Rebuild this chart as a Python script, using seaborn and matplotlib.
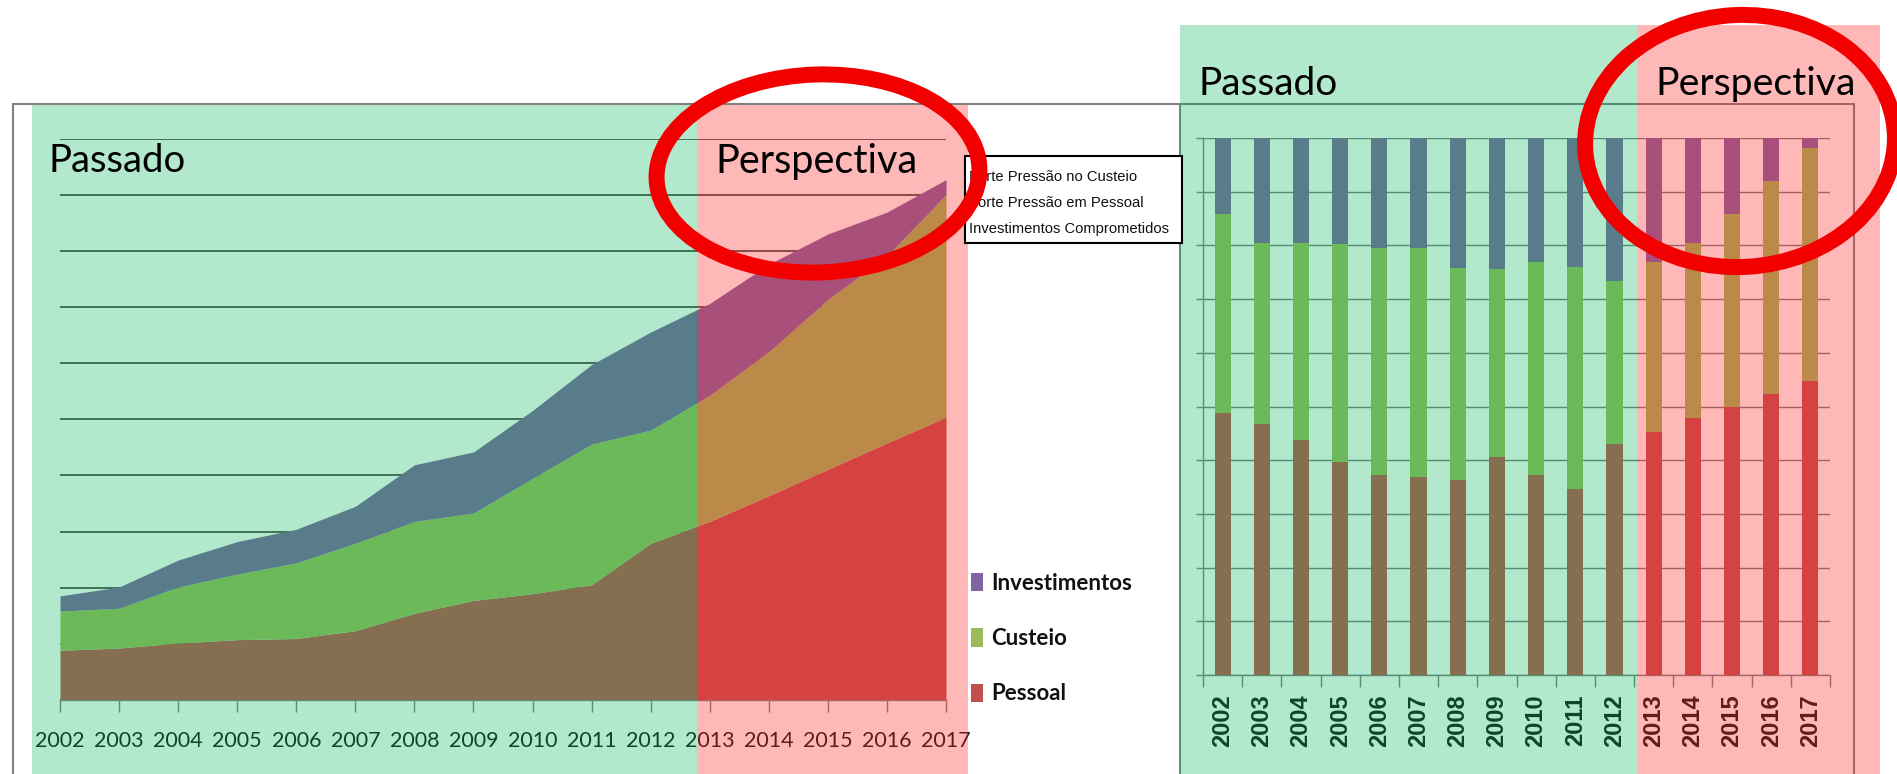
import numpy as np
import pandas as pd
import matplotlib
matplotlib.use("Agg")
import matplotlib.pyplot as plt
import seaborn as sns
from matplotlib.patches import Rectangle, Ellipse, Patch
from matplotlib.lines import Line2D
from matplotlib.transforms import IdentityTransform

# ---------------- data ----------------
years = [2002, 2003, 2004, 2005, 2006, 2007, 2008, 2009,
         2010, 2011, 2012, 2013, 2014, 2015, 2016, 2017]
year_labels = [str(y) for y in years]

# left chart: stacked area (values in gridline units)
pessoal = [0.88, 0.92, 1.01, 1.07, 1.09, 1.23, 1.54, 1.77,
           1.89, 2.05, 2.79, 3.18, 3.64, 4.11, 4.58, 5.04]
custeio = [0.70, 0.71, 1.00, 1.17, 1.35, 1.56, 1.64, 1.56,
           2.06, 2.51, 2.02, 2.25, 2.57, 3.03, 3.34, 3.97]
investimentos = [0.27, 0.38, 0.48, 0.58, 0.60, 0.66, 1.01, 1.09,
                 1.21, 1.42, 1.75, 1.64, 1.56, 1.17, 0.78, 0.27]

# right chart: 100% stacked bars (percent shares)
pessoal_pct = [48.8, 46.7, 43.7, 39.7, 37.2, 36.8, 36.3, 40.6,
               37.2, 34.7, 43.1, 45.2, 47.8, 50.0, 52.4, 54.8]
custeio_pct = [37.1, 33.8, 36.8, 40.6, 42.4, 42.8, 39.5, 35.0,
               39.7, 41.3, 30.2, 31.7, 32.7, 35.9, 39.5, 43.4]

series_names = ["Investimentos", "Custeio", "Pessoal"]
annotations = ["Forte Pressão no Custeio",
               "Forte Pressão em Pessoal",
               "Investimentos Comprometidos"]
region_labels = ["Passado", "Perspectiva"]

# ---------------- style ----------------
C_PES = "#C0504D"
C_CUS = "#9BBB59"
C_INV = "#8064A2"
GREEN_OV = (0.0, 0.71, 0.35, 0.30)
PINK_OV = (1.0, 0.16, 0.16, 0.33)

sns.set_theme(style="white")
CAL = ["Lato", "DejaVu Sans"]
ARIAL = ["Liberation Sans", "DejaVu Sans"]
plt.rcParams["font.family"] = CAL

W, H = 1897, 774
fig = plt.figure(figsize=(W / 100, H / 100), dpi=100)
fig.patch.set_facecolor("white")


def fx(x):
    return x / W


def fy(y):
    return 1 - y / H


def axes_px(x0, y0, x1, y1):
    return fig.add_axes([fx(x0), fy(y1), (x1 - x0) / W, (y1 - y0) / H])


# ---------------- left chart ----------------
axL = axes_px(60, 139.3, 946, 699.6)
axL.set_facecolor("none")
axL.stackplot(years, pessoal, custeio, investimentos,
              colors=[C_PES, C_CUS, C_INV], linewidth=0, zorder=2)
axL.set_xlim(2002, 2017)
axL.set_ylim(0, 10)
axL.set_yticks(range(0, 11))
axL.set_yticklabels([])
axL.yaxis.grid(True, color="#4a4a4a", linewidth=1.3, zorder=1)
axL.set_axisbelow(True)
axL.set_xticks(years)
axL.set_xticklabels(year_labels, fontsize=15.5, color="#151515", family=CAL)
axL.tick_params(axis="x", length=8.5, width=1, color="#808080", pad=14,
                bottom=True)
axL.tick_params(axis="y", length=0)
for s in ["left", "right", "top"]:
    axL.spines[s].set_visible(False)
axL.spines["bottom"].set_color("#808080")
axL.spines["bottom"].set_linewidth(1)

handles = [Patch(facecolor=C_INV, edgecolor="none"),
           Patch(facecolor=C_CUS, edgecolor="none"),
           Patch(facecolor=C_PES, edgecolor="none")]
leg = axL.legend(handles, series_names, loc="center left",
                 bbox_to_anchor=(fx(971), fy(638.5)),
                 bbox_transform=fig.transFigure, frameon=False,
                 prop={"family": CAL, "weight": "bold", "size": 16},
                 handlelength=0.55, handleheight=0.9, handletextpad=0.35,
                 labelspacing=1.55, borderpad=0, borderaxespad=0)
for t in leg.get_texts():
    t.set_color("#111111")

# ---------------- right chart ----------------
axR = axes_px(1203, 138, 1830, 675)
axR.set_facecolor("none")
cum_cus = [p + c for p, c in zip(pessoal_pct, custeio_pct)]
tot = [100.0] * len(years)
df = pd.DataFrame({"ano": year_labels, "total": tot,
                   "cus": cum_cus, "pes": pessoal_pct})
sns.barplot(data=df, x="ano", y="total", color=C_INV, width=0.41,
            saturation=1, linewidth=0, ax=axR, zorder=2)
sns.barplot(data=df, x="ano", y="cus", color=C_CUS, width=0.41,
            saturation=1, linewidth=0, ax=axR, zorder=3)
sns.barplot(data=df, x="ano", y="pes", color=C_PES, width=0.41,
            saturation=1, linewidth=0, ax=axR, zorder=4)
axR.set_xlim(-0.5, 15.5)
axR.set_ylim(0, 100)
axR.set_xlabel("")
axR.set_ylabel("")
axR.set_yticks(range(0, 101, 10))
axR.set_yticklabels([])
axR.yaxis.grid(True, color="#7a7a7a", linewidth=1, zorder=1)
axR.set_axisbelow(True)
axR.tick_params(axis="y", length=5, width=1, color="#808080", left=True)
axR.set_xticks(range(16))
axR.set_xticklabels(year_labels, rotation=90, fontsize=17,
                    fontweight="bold", family=ARIAL,
                    color="#151515", va="top")
axR.set_xticks(np.arange(-0.5, 16, 1), minor=True)
axR.tick_params(axis="x", which="major", length=0, pad=14)
axR.tick_params(axis="x", which="minor", length=8.5, width=1,
                color="#808080", bottom=True)
for s in ["right", "top"]:
    axR.spines[s].set_visible(False)
for s in ["left", "bottom"]:
    axR.spines[s].set_color("#808080")
    axR.spines[s].set_linewidth(1)

# ---------------- frames ----------------
fr = dict(color="#808080", linewidth=1.5, zorder=5)
fig.add_artist(Line2D([fx(13), fx(1854)], [fy(104), fy(104)], **fr))
for xx in (13, 1180, 1854):
    fig.add_artist(Line2D([fx(xx), fx(xx)], [fy(104), fy(774)], **fr))

# ---------------- tinted region overlays ----------------
def overlay(x0, y0, x1, y1, col):
    fig.add_artist(Rectangle((fx(x0), fy(y1)), (x1 - x0) / W, (y1 - y0) / H,
                             facecolor=col, edgecolor="none",
                             transform=fig.transFigure, zorder=6))


overlay(32, 105, 697, 774, GREEN_OV)
overlay(697, 105, 968, 774, PINK_OV)
overlay(1180, 25, 1637, 774, GREEN_OV)
overlay(1637, 25, 1880, 774, PINK_OV)

# ---------------- region titles ----------------
tk = dict(ha="left", va="baseline", color="black", family=CAL, zorder=8)
fig.text(fx(49), fy(172), region_labels[0], fontsize=27.5, **tk)
fig.text(fx(715), fy(173), region_labels[1], fontsize=28.5, **tk)
fig.text(fx(1198), fy(95), region_labels[0], fontsize=28, **tk)
fig.text(fx(1655), fy(95), region_labels[1], fontsize=28.3, **tk)

# ---------------- annotation box ----------------
fig.add_artist(Rectangle((fx(965), fy(243)), (1182 - 965) / W, (243 - 156) / H,
                         facecolor="white", edgecolor="black", linewidth=1.5,
                         transform=fig.transFigure, zorder=9))
for txt, yb in zip(annotations, [181, 207, 233]):
    fig.text(fx(969), fy(yb), txt, ha="left", va="baseline", fontsize=10.6,
             color="#111111", family=ARIAL, zorder=10)

# ---------------- red ellipses ----------------
for (cx, cy, w, h, ang) in [(818, 173.5, 323, 198, 2.0),
                            (1740, 141, 310, 252, 3.0)]:
    fig.add_artist(Ellipse((cx, H - cy), w, h, angle=ang, fill=False,
                           edgecolor="#F20000", linewidth=11.5,
                           transform=IdentityTransform(), zorder=11))

fig.savefig("out.png", dpi=100, facecolor="white")
